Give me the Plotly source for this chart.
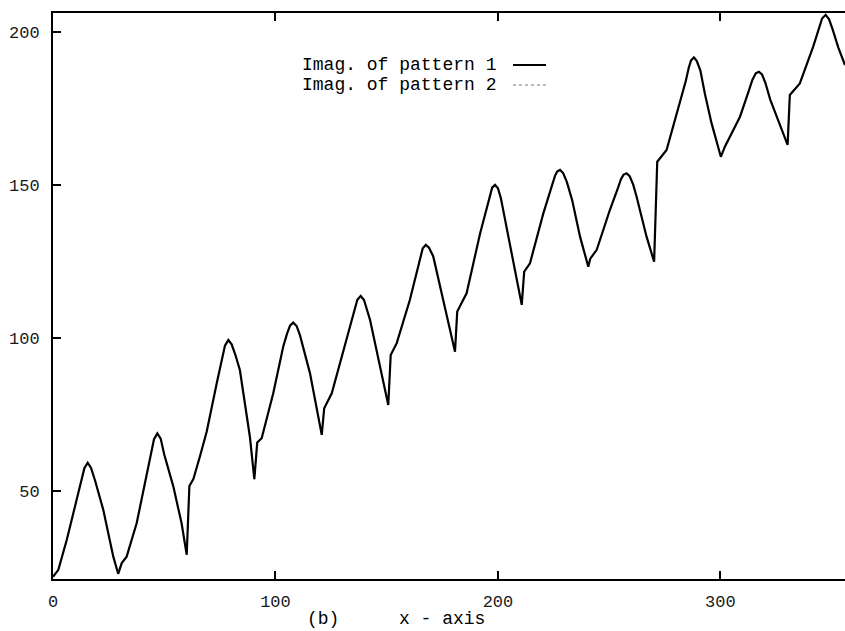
import plotly.graph_objects as go

# ---- data ----
x_pattern1 = [
    0, 2.4, 6.2, 10.7, 12.6, 14.1, 15.6, 17.1, 18.9, 22.6, 27.1, 29.3,
    30.9, 33.1, 37.6, 42.1, 44.0, 45.4, 46.9, 48.4, 50.0, 54.1, 57.8, 60.1,
    61.3, 63.1, 66.1, 69.1, 73.6, 75.8, 77.3, 78.8, 80.3, 82.0, 84.0, 88.5, 90.5,
    91.8, 93.8, 99.0, 103.5, 105.2, 106.6, 108.0, 109.5, 111.0, 115.5, 120.8,
    121.9, 125.3, 130.5, 133.5, 135.4, 136.8, 138.3, 139.8, 142.5, 147.0, 150.7,
    151.8, 154.5, 160.4, 163.6, 165.1, 166.2, 167.6, 169.0, 170.9, 175.4, 180.7,
    181.7, 185.9, 192.0, 194.8, 196.3, 197.4, 198.7, 200.0, 201.3, 205.4, 210.7,
    211.8, 214.4, 220.4, 224.0, 225.6, 226.6, 227.9, 229.3, 231.0, 233.4, 236.9, 240.6,
    241.5, 244.4, 250.3, 253.8, 255.3, 256.4, 257.8, 259.2, 260.8, 262.3, 266.8, 270.2,
    271.6, 275.8, 281.8, 284.4, 285.8, 286.8, 288.1, 289.4, 291.0, 293.0, 296.0, 300.2,
    302.0, 308.8, 312.6, 314.4, 315.9, 317.3, 318.7, 320.2, 322.4, 326.0, 330.2,
    331.2, 335.7, 341.7, 344.3, 345.7, 347.3, 348.8, 350.4, 353.0, 356.0,
]
y_pattern1 = [
    22.0, 24.3, 34.1, 47.2, 53.0, 57.5, 59.3, 57.6, 53.5, 43.9, 28.6, 23.0,
    26.5, 28.6, 39.5, 54.8, 61.5, 67.0, 68.9, 67.2, 62.0, 51.5, 39.5, 29.2,
    51.7, 54.0, 61.5, 69.5, 85.3, 92.5, 97.6, 99.4, 98.0, 94.5, 89.6, 67.8, 53.9,
    65.9, 67.3, 82.0, 97.3, 101.5, 104.2, 105.1, 104.0, 101.0, 88.6, 68.4,
    77.1, 82.0, 96.2, 104.5, 109.5, 112.6, 113.8, 112.5, 106.0, 90.7, 78.2,
    94.5, 98.4, 112.5, 122.0, 126.8, 129.4, 130.5, 129.6, 126.8, 112.5, 95.6,
    108.7, 114.7, 134.3, 142.0, 146.8, 149.2, 150.1, 149.0, 145.8, 131.0, 110.9,
    121.8, 124.5, 140.8, 149.5, 153.0, 154.5, 155.0, 154.0, 151.0, 145.0, 133.2, 123.4,
    126.0, 128.9, 141.9, 148.8, 152.0, 153.4, 153.9, 153.0, 150.2, 146.3, 133.2, 125.0,
    157.7, 161.5, 176.8, 184.0, 188.5, 190.8, 191.8, 190.6, 187.5, 180.0, 170.3, 159.3,
    162.6, 172.4, 180.5, 184.5, 186.6, 187.1, 186.2, 183.5, 178.0, 171.3, 163.2,
    179.5, 183.3, 195.3, 201.0, 204.5, 205.7, 204.3, 201.0, 195.0, 189.3,
]
# pattern 2 is indistinguishable from pattern 1 in the picture
x_pattern2 = list(x_pattern1)
y_pattern2 = list(y_pattern1)

series_names = ["Imag. of pattern 1", "Imag. of pattern 2"]
x_tick_values = [0, 100, 200, 300]
y_tick_values = [50, 100, 150, 200]
x_title_parts = ["(b)", "x - axis"]

FONT = "Liberation Mono, Courier New, monospace"

fig = go.Figure()
fig.add_trace(go.Scatter(x=x_pattern2, y=y_pattern2, mode="lines", name=series_names[1],
                         line=dict(color="#777777", width=1, dash="dot"), showlegend=False))
fig.add_trace(go.Scatter(x=x_pattern1, y=y_pattern1, mode="lines", name=series_names[0],
                         line=dict(color="black", width=2.2, shape="linear"), showlegend=False))

W, H = 845, 631
ml, mr, mt, mb = 53, 0, 13, 52
pw, ph = W - ml - mr, H - mt - mb

def px_x(p):
    return (p - ml) / pw

def px_y(p):
    return (H - mb - p) / ph

fig.update_layout(
    width=W, height=H,
    margin=dict(l=ml, r=mr, t=mt, b=mb, pad=0, autoexpand=False),
    paper_bgcolor="white", plot_bgcolor="white",
    font=dict(family=FONT, color="#1a1a1a", size=17),
    xaxis=dict(range=[0, 356], tickvals=x_tick_values, ticks="inside", ticklen=8, tickwidth=1.5,
               tickcolor="black", showline=True, linecolor="black", linewidth=2, mirror="ticks",
               showgrid=False, zeroline=False, automargin=False, ticklabelstandoff=6,
               tickfont=dict(family=FONT, size=17, color="#1a1a1a")),
    yaxis=dict(range=[21.3, 206.3], tickvals=y_tick_values, ticks="inside", ticklen=8, tickwidth=1.5,
               tickcolor="black", showline=True, linecolor="black", linewidth=2, mirror=False,
               showgrid=False, zeroline=False, automargin=False, ticklabelstandoff=8,
               tickfont=dict(family=FONT, size=17, color="#1a1a1a")),
    showlegend=False,
)

# x-axis caption
fig.add_annotation(text=x_title_parts[0], xref="paper", yref="paper", x=px_x(305), y=px_y(619),
                   xanchor="left", yanchor="middle", showarrow=False,
                   font=dict(family=FONT, size=18, color="black"))
fig.add_annotation(text=x_title_parts[1], xref="paper", yref="paper", x=px_x(397), y=px_y(619),
                   xanchor="left", yanchor="middle", showarrow=False,
                   font=dict(family=FONT, size=18, color="black"))

# legend (text followed by line sample, as in the original)
legend_rows = [65.0, 85.0]
legend_styles = [dict(color="black", width=2), dict(color="#777777", width=1, dash="dot")]
for name, row, style in zip(series_names, legend_rows, legend_styles):
    fig.add_annotation(text=name, xref="paper", yref="paper", x=px_x(498), y=px_y(row),
                       xanchor="right", yanchor="middle", showarrow=False,
                       font=dict(family=FONT, size=18, color="black"))
    fig.add_shape(type="line", xref="paper", yref="paper",
                  x0=px_x(513), x1=px_x(546), y0=px_y(row), y1=px_y(row), line=style)

fig.write_html("out.html", config={"displayModeBar": False},
               post_script="document.body.style.margin='0px';document.body.style.overflow='hidden';")
